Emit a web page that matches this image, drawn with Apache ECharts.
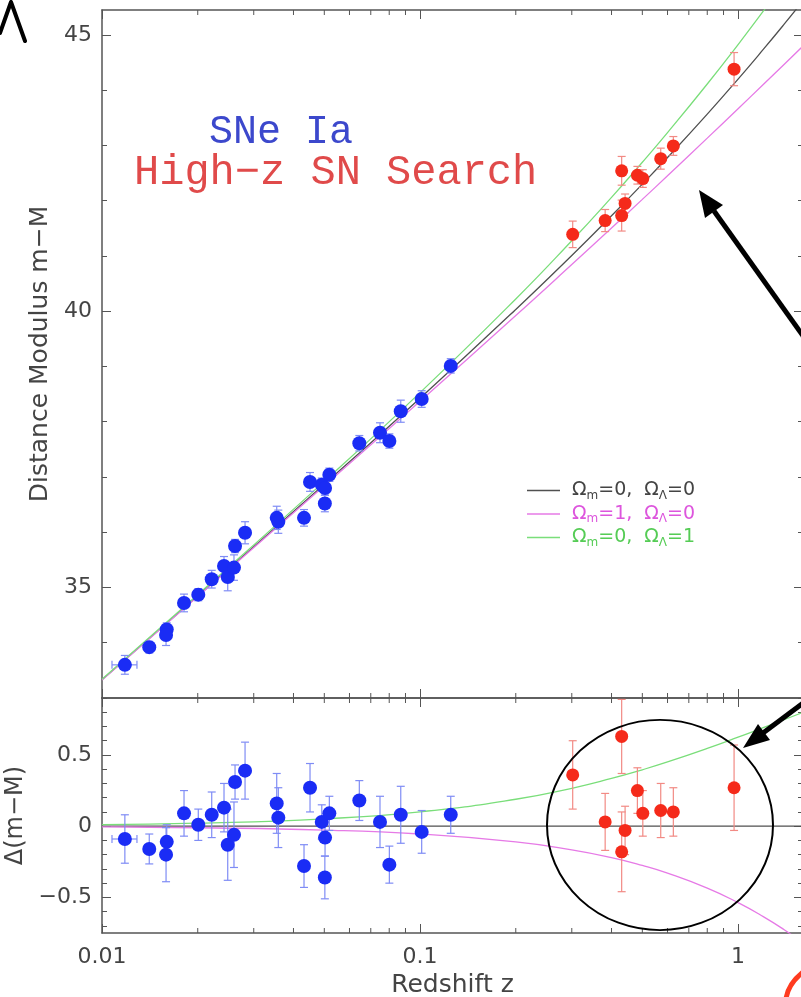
<!DOCTYPE html>
<html>
<head>
<meta charset="utf-8">
<script src="https://cdn.jsdelivr.net/npm/echarts@6/dist/echarts.min.js"></script>
<style>
html,body{margin:0;padding:0;background:#fff}
#main{width:801px;height:997px}
</style>
</head>
<body>
<div id="main"></div>
<script>
// low-z SNe Ia (blue): redshift, distance modulus, residual, error
var blueZ   = [0.0118, 0.01408, 0.01598, 0.0159, 0.01811, 0.02008, 0.02213, 0.02419, 0.02485, 0.0262, 0.0260, 0.02817, 0.03543, 0.03584, 0.04317, 0.04509, 0.04909, 0.05186, 0.05027, 0.0502, 0.06443, 0.07483, 0.08008, 0.08697, 0.1012, 0.1249];
var blueMu  = [33.60, 33.92, 34.24, 34.14, 34.72, 34.87, 35.15, 35.39, 35.19, 35.75, 35.36, 35.99, 36.26, 36.19, 36.26, 36.91, 36.86, 37.04, 36.80, 36.52, 37.61, 37.80, 37.65, 38.19, 38.41, 39.01];
var blueRes = [-0.09, -0.16, -0.11, -0.20, 0.09, 0.01, 0.08, 0.13, -0.13, 0.31, -0.06, 0.39, 0.16, 0.06, -0.28, 0.27, 0.03, 0.09, -0.08, -0.36, 0.18, 0.03, -0.27, 0.08, -0.04, 0.08];
var blueErr = [0.17, 0.105, 0.12, 0.19, 0.16, 0.11, 0.16, 0.17, 0.25, 0.12, 0.23, 0.20, 0.21, 0.21, 0.15, 0.17, 0.12, 0.12, 0.13, 0.15, 0.14, 0.18, 0.13, 0.20, 0.15, 0.13];
// horizontal error bar: [point index, z low, z high]
var blueXerr = [[0, 0.01075, 0.01288]];

// High-z SN Search (red)
var redZ   = [0.302, 0.4305, 0.382, 0.4413, 0.4305, 0.4824, 0.5017, 0.5712, 0.6258, 0.9714];
var redMu  = [41.39, 42.54, 41.64, 41.95, 41.73, 42.46, 42.40, 42.76, 42.99, 44.38];
var redRes = [0.36, 0.63, 0.03, -0.03, -0.18, 0.25, 0.09, 0.11, 0.10, 0.27];
var redErr = [0.24, 0.26, 0.20, 0.17, 0.28, 0.16, 0.16, 0.19, 0.17, 0.30];

// model curves
var modelZ  = [0.01, 0.02, 0.05, 0.1, 0.2, 0.3, 0.4, 0.5, 0.6, 0.8, 1.0, 1.2, 1.4, 1.6];
var muEmpty = [33.330, 34.846, 36.868, 38.425, 40.032, 41.009, 41.726, 42.299, 42.780, 43.566, 44.200, 44.736, 45.202, 45.617];
var muMatter = [33.325, 34.836, 36.841, 38.371, 39.921, 40.843, 41.505, 42.023, 42.450, 43.131, 43.663, 44.102, 44.474, 44.798];
var muLambda = [33.341, 34.868, 36.920, 38.526, 40.221, 41.275, 42.060, 42.695, 43.231, 44.111, 44.825, 45.428, 45.951, 46.415];
var resEmpty = [0, 0, 0, 0, 0, 0, 0, 0, 0, 0, 0, 0, 0, 0];
var resMatter = [-0.005, -0.011, -0.027, -0.055, -0.110, -0.166, -0.221, -0.276, -0.330, -0.435, -0.537, -0.635, -0.729, -0.819];
var resLambda = [0.011, 0.021, 0.052, 0.101, 0.189, 0.266, 0.335, 0.396, 0.451, 0.546, 0.625, 0.692, 0.749, 0.799];

var lineNames = ['\u03A9m=0, \u03A9\u039B=0', '\u03A9m=1, \u03A9\u039B=0', '\u03A9m=0, \u03A9\u039B=1'];
var lineRich = ['{t|\u03A9}{s|m}{t|=0,  \u03A9}{s|\u039B}{t|=0}', '{t|\u03A9}{s|m}{t|=1,  \u03A9}{s|\u039B}{t|=0}', '{t|\u03A9}{s|m}{t|=0,  \u03A9}{s|\u039B}{t|=1}'];
var lineColors = ['#505050', '#e67ae6', '#7ade7a'];
var legendTextColors = ['#444444', '#dd55dd', '#55cc55'];

// ticks
var xTickLabels = ['0.01', '0.1', '1'];
var minorZ = [0.02, 0.03, 0.04, 0.05, 0.06, 0.07, 0.08, 0.09, 0.2, 0.3, 0.4, 0.5, 0.6, 0.7, 0.8, 0.9];
var topMajor = [35, 40, 45];
var topMinor = [33, 34, 36, 37, 38, 39, 41, 42, 43, 44];
var botMajor = [-0.5, 0, 0.5];
var botMinor = [-0.7, -0.6, -0.4, -0.3, -0.2, -0.1, 0.1, 0.2, 0.3, 0.4, 0.6, 0.7, 0.8, 0.9];

var AX = '#555';
var TXT = '#444';
var FONT = 'DejaVu Sans';
var BLUE = '#1a2cf5';
var RED = '#f52a1a';

function pairs(xs, ys) { return xs.map(function (x, i) { return [x, ys[i]]; }); }
function errData(xs, ys, es) { return xs.map(function (x, i) { return [x, ys[i] - es[i], ys[i] + es[i]]; }); }

function vErrRender(params, api) {
  var lo = api.coord([api.value(0), api.value(1)]);
  var hi = api.coord([api.value(0), api.value(2)]);
  var c = api.visual('color');
  var st = { stroke: c, lineWidth: 1.2 };
  return { type: 'group', children: [
    { type: 'line', shape: { x1: lo[0], y1: lo[1], x2: hi[0], y2: hi[1] }, style: st },
    { type: 'line', shape: { x1: lo[0] - 4, y1: lo[1], x2: lo[0] + 4, y2: lo[1] }, style: st },
    { type: 'line', shape: { x1: hi[0] - 4, y1: hi[1], x2: hi[0] + 4, y2: hi[1] }, style: st }
  ] };
}
function hErrRender(params, api) {
  var a = api.coord([api.value(0), api.value(2)]);
  var b = api.coord([api.value(1), api.value(2)]);
  var c = api.visual('color');
  var st = { stroke: c, lineWidth: 1.2 };
  return { type: 'group', children: [
    { type: 'line', shape: { x1: a[0], y1: a[1], x2: b[0], y2: b[1] }, style: st },
    { type: 'line', shape: { x1: a[0], y1: a[1] - 4, x2: a[0], y2: a[1] + 4 }, style: st },
    { type: 'line', shape: { x1: b[0], y1: b[1] - 4, x2: b[0], y2: b[1] + 4 }, style: st }
  ] };
}
function minorTickRender(params, api) {
  var cs = params.coordSys;
  var x = api.coord([api.value(0), api.value(1)])[0];
  var st = { stroke: AX, lineWidth: 1 };
  return { type: 'group', children: [
    { type: 'line', shape: { x1: x, y1: cs.y, x2: x, y2: cs.y + 5 }, style: st },
    { type: 'line', shape: { x1: x, y1: cs.y + cs.height, x2: x, y2: cs.y + cs.height - 5 }, style: st }
  ] };
}

function xAx(grid, pos, extra) {
  var a = {
    gridIndex: grid, type: 'log', logBase: 10, min: 0.01, max: 1.6, position: pos,
    axisLine: { show: true, onZero: false, lineStyle: { color: AX, width: 1.5 } },
    axisTick: { show: true, inside: true, length: 9, lineStyle: { color: AX } },
    axisLabel: { show: false },
    splitLine: { show: false }
  };
  return Object.assign(a, extra || {});
}
function yAx(grid, pos, min, max, ticks, len, extra) {
  var a = {
    gridIndex: grid, type: 'value', min: min, max: max, position: pos,
    axisLine: { show: false, onZero: false },
    axisTick: { show: true, inside: true, length: len, customValues: ticks, lineStyle: { color: AX } },
    axisLabel: { show: false },
    splitLine: { show: false }
  };
  return Object.assign(a, extra || {});
}
var lineAx = { show: true, onZero: false, lineStyle: { color: AX, width: 1.5 } };

var series = [];
// model curves, top and bottom
[[muEmpty, resEmpty], [muMatter, resMatter], [muLambda, resLambda]].forEach(function (m, i) {
  series.push({ type: 'line', name: lineNames[i], xAxisIndex: 0, yAxisIndex: 0, data: pairs(modelZ, m[0]),
    smooth: true, symbol: 'none', lineStyle: { color: lineColors[i], width: 1.3 }, itemStyle: { color: lineColors[i] }, z: 2 });
  series.push({ type: 'line', name: lineNames[i], xAxisIndex: 2, yAxisIndex: 4, data: pairs(modelZ, m[1]),
    smooth: true, symbol: 'none', lineStyle: { color: lineColors[i], width: 1.3 }, itemStyle: { color: lineColors[i] }, z: 2 });
});
// error bars
series.push({ type: 'custom', xAxisIndex: 0, yAxisIndex: 0, renderItem: vErrRender, data: errData(blueZ, blueMu, blueErr), itemStyle: { color: '#7f8cf5' }, encode: { x: 0, y: [1, 2] }, silent: true, z: 3 });
series.push({ type: 'custom', xAxisIndex: 2, yAxisIndex: 4, renderItem: vErrRender, data: errData(blueZ, blueRes, blueErr), itemStyle: { color: '#7f8cf5' }, encode: { x: 0, y: [1, 2] }, silent: true, z: 3 });
series.push({ type: 'custom', xAxisIndex: 0, yAxisIndex: 0, renderItem: vErrRender, data: errData(redZ, redMu, redErr), itemStyle: { color: '#f28a84' }, encode: { x: 0, y: [1, 2] }, silent: true, z: 3 });
series.push({ type: 'custom', xAxisIndex: 2, yAxisIndex: 4, renderItem: vErrRender, data: errData(redZ, redRes, redErr), itemStyle: { color: '#f28a84' }, encode: { x: 0, y: [1, 2] }, silent: true, z: 3 });
series.push({ type: 'custom', xAxisIndex: 0, yAxisIndex: 0, renderItem: hErrRender, data: blueXerr.map(function (e) { return [e[1], e[2], blueMu[e[0]]]; }), itemStyle: { color: '#7f8cf5' }, encode: { x: [0, 1], y: 2 }, silent: true, z: 3 });
series.push({ type: 'custom', xAxisIndex: 2, yAxisIndex: 4, renderItem: hErrRender, data: blueXerr.map(function (e) { return [e[1], e[2], blueRes[e[0]]]; }), itemStyle: { color: '#7f8cf5' }, encode: { x: [0, 1], y: 2 }, silent: true, z: 3 });
// points
series.push({ type: 'scatter', name: 'SNe Ia', xAxisIndex: 0, yAxisIndex: 0, data: pairs(blueZ, blueMu), symbolSize: 14, itemStyle: { color: BLUE, opacity: 1 }, z: 4 });
series.push({ type: 'scatter', name: 'SNe Ia', xAxisIndex: 2, yAxisIndex: 4, data: pairs(blueZ, blueRes), symbolSize: 14, itemStyle: { color: BLUE, opacity: 1 }, z: 4 });
series.push({ type: 'scatter', name: 'High\u2212z SN Search', xAxisIndex: 0, yAxisIndex: 0, data: pairs(redZ, redMu), symbolSize: 13, itemStyle: { color: RED, opacity: 1 }, z: 4 });
series.push({ type: 'scatter', name: 'High\u2212z SN Search', xAxisIndex: 2, yAxisIndex: 4, data: pairs(redZ, redRes), symbolSize: 13, itemStyle: { color: RED, opacity: 1 }, z: 4 });
// minor log ticks
series.push({ type: 'custom', xAxisIndex: 0, yAxisIndex: 0, renderItem: minorTickRender, data: minorZ.map(function (z) { return [z, 40]; }), encode: { x: 0, y: 1 }, silent: true, clip: false, z: 5 });
series.push({ type: 'custom', xAxisIndex: 2, yAxisIndex: 4, renderItem: minorTickRender, data: minorZ.map(function (z) { return [z, 0]; }), encode: { x: 0, y: 1 }, silent: true, clip: false, z: 5 });

var option = {
  animation: false,
  backgroundColor: '#fff',
  grid: [
    { left: 102, top: 10, width: 701, height: 688, outerBoundsMode: 'none' },
    { left: 102, top: 698, width: 701, height: 235, outerBoundsMode: 'none' }
  ],
  legend: [
    { data: [{ name: 'SNe Ia', icon: 'none' }], left: 202, top: 112, padding: 0, itemWidth: 2, selectedMode: false,
      textStyle: { fontFamily: 'Liberation Mono', fontSize: 40, color: '#3c48cc' } },
    { data: [{ name: 'High\u2212z SN Search', icon: 'none' }], left: 127, top: 152, padding: 0, itemWidth: 2, selectedMode: false,
      textStyle: { fontFamily: 'Liberation Mono', fontSize: 42, color: '#e04a4a' } },
    { data: lineNames.map(function (n, i) { return { name: n, icon: 'rect', textStyle: { color: legendTextColors[i] } }; }),
      orient: 'vertical', left: 527, top: 481, padding: 0, itemWidth: 33, itemHeight: 1.5, itemGap: 3, selectedMode: false,
      formatter: function (name) { return lineRich[lineNames.indexOf(name)]; },
      textStyle: { fontFamily: FONT, fontSize: 19, padding: [0, 0, 0, 7],
        rich: { t: { fontFamily: FONT, fontSize: 19 }, s: { fontFamily: FONT, fontSize: 12, padding: [10, 0, 0, 0] } } } }
  ],
  xAxis: [
    xAx(0, 'bottom'),
    xAx(0, 'top'),
    xAx(1, 'bottom', {
      axisLabel: { show: true, margin: 13, fontFamily: FONT, fontSize: 22, color: TXT,
        formatter: function (v) { var e = Math.log10(v); var r = Math.round(e); if (Math.abs(e - r) > 1e-6) return ''; return xTickLabels[r + 2] || ''; } },
      name: 'Redshift z', nameLocation: 'middle', nameGap: 40,
      nameTextStyle: { fontFamily: FONT, fontSize: 25, color: TXT }
    }),
    xAx(1, 'top')
  ],
  yAxis: [
    yAx(0, 'left', 33, 45.45, topMajor, 9, {
      axisLine: lineAx,
      axisLabel: { show: true, margin: 10, customValues: topMajor, fontFamily: FONT, fontSize: 22, color: TXT },
      name: 'Distance Modulus m\u2212M', nameLocation: 'middle', nameGap: 41,
      nameTextStyle: { fontFamily: FONT, fontSize: 25, color: TXT }
    }),
    yAx(0, 'left', 33, 45.45, topMinor, 5),
    yAx(0, 'right', 33, 45.45, topMajor, 9),
    yAx(0, 'right', 33, 45.45, topMinor, 5),
    yAx(1, 'left', -0.75, 0.9, botMajor, 9, {
      axisLine: lineAx,
      axisLabel: { show: true, margin: 10, customValues: botMajor, fontFamily: FONT, fontSize: 22, color: TXT,
        formatter: function (v) { return v < 0 ? '\u2212' + (-v) : String(v); } },
      name: '\u0394(m\u2212M)', nameLocation: 'middle', nameGap: 63,
      nameTextStyle: { fontFamily: FONT, fontSize: 24, color: TXT }
    }),
    yAx(1, 'left', -0.75, 0.9, botMinor, 5),
    yAx(1, 'right', -0.75, 0.9, botMajor, 9),
    yAx(1, 'right', -0.75, 0.9, botMinor, 5)
  ],
  graphic: [
    { type: 'circle', x: 660, y: 825, scaleY: 0.93, shape: { cx: 0, cy: 0, r: 113 }, style: { fill: 'none', stroke: '#000', lineWidth: 2 }, z: 10 },
    { type: 'line', shape: { x1: 806, y1: 340, x2: 714, y2: 211 }, style: { stroke: '#000', lineWidth: 5 }, z: 10 },
    { type: 'polygon', shape: { points: [[699, 190], [723, 205], [705, 218]] }, style: { fill: '#000' }, z: 10 },
    { type: 'line', shape: { x1: 806, y1: 701, x2: 763, y2: 733 }, style: { stroke: '#000', lineWidth: 5 }, z: 10 },
    { type: 'polygon', shape: { points: [[743, 748], [758, 724], [770, 740]] }, style: { fill: '#000' }, z: 10 },
    { type: 'polyline', shape: { points: [[0, 33], [11, 2], [25, 41]] }, style: { stroke: '#000', lineWidth: 4, lineCap: 'round', lineJoin: 'round' }, z: 10 },
    { type: 'bezierCurve', shape: { x1: 786, y1: 999, cpx1: 788, cpy1: 984, x2: 803, y2: 972 }, style: { stroke: '#ff3b1f', lineWidth: 5, fill: 'none' }, z: 10 }
  ],
  series: series
};

var chart = echarts.init(document.getElementById('main'));
chart.setOption(option);
</script>
</body>
</html>
